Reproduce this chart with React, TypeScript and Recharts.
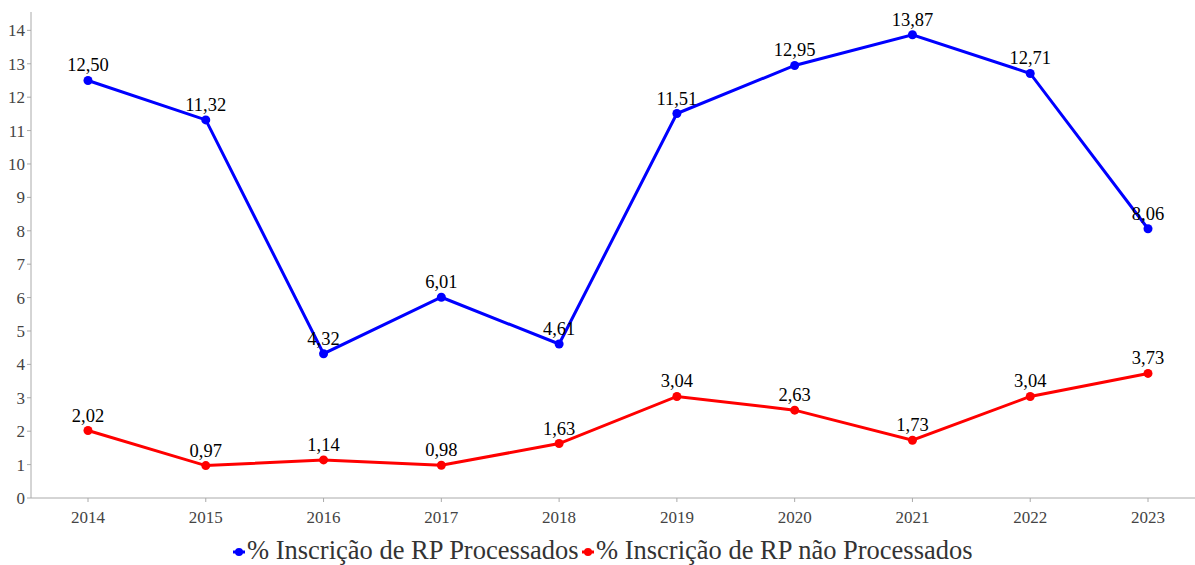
import React from 'react';
import { LineChart, Line, XAxis, YAxis, LabelList } from 'recharts';

const years = ['2014', '2015', '2016', '2017', '2018', '2019', '2020', '2021', '2022', '2023'];
const processados = [12.5, 11.32, 4.32, 6.01, 4.61, 11.51, 12.95, 13.87, 12.71, 8.06];
const naoProcessados = [2.02, 0.97, 1.14, 0.98, 1.63, 3.04, 2.63, 1.73, 3.04, 3.73];
const yTicks = [0, 1, 2, 3, 4, 5, 6, 7, 8, 9, 10, 11, 12, 13, 14];

const seriesNames = ['% Inscrição de RP Processados', '% Inscrição de RP não Processados'];
const seriesColors = ['#0000FF', '#FF0000'];
const legendX = [233, 582];

const data = years.map((y, i) => ({ year: y, a: processados[i], b: naoProcessados[i] }));

const fmt = (v: any) => Number(v).toFixed(2).replace('.', ',');
const FONT = 'Liberation Serif';

const tickStyle = { fill: '#444', fontSize: 17, fontFamily: FONT };

export default function App() {
  return (
    <div style={{ position: 'absolute', left: 0, top: 0, width: 1195, height: 565, background: '#fff' }}>
      <LineChart width={1195} height={565} data={data} margin={{ top: 12, right: 0, bottom: 31, left: 0 }}>
        <XAxis
          dataKey="year"
          padding={{ left: 57, right: 47 }}
          stroke="#aaa"
          tickSize={4}
          tick={tickStyle}
          tickMargin={9}
          height={36}
        />
        <YAxis
          domain={[0, 14.55]}
          ticks={yTicks}
          width={31}
          stroke="#aaa"
          tickSize={4}
          tickMargin={2}
          interval={0}
          tick={tickStyle}
        />
        <Line dataKey="a" name={seriesNames[0]} stroke={seriesColors[0]} strokeWidth={3} dot={{ r: 4.5, fill: seriesColors[0], stroke: seriesColors[0], strokeWidth: 0 }} isAnimationActive={false}>
          <LabelList dataKey="a" position="top" offset={9} formatter={fmt} style={{ fill: '#000', fontSize: 18.5, fontFamily: FONT }} />
        </Line>
        <Line dataKey="b" name={seriesNames[1]} stroke={seriesColors[1]} strokeWidth={3} dot={{ r: 4.5, fill: seriesColors[1], stroke: seriesColors[1], strokeWidth: 0 }} isAnimationActive={false}>
          <LabelList dataKey="b" position="top" offset={9} formatter={fmt} style={{ fill: '#000', fontSize: 18.5, fontFamily: FONT }} />
        </Line>
      </LineChart>
      <svg width={1195} height={40} style={{ position: 'absolute', left: 0, top: 532 }}>
        {seriesNames.map((n, i) => (
          <g key={n}>
            <line x1={legendX[i]} y1={20} x2={legendX[i] + 12} y2={20} stroke={seriesColors[i]} strokeWidth={3} />
            <circle cx={legendX[i] + 6} cy={20} r={4} fill={seriesColors[i]} />
            <text x={legendX[i] + 14} y={27} fontFamily={FONT} fontSize={26.5} fill="#333">{n}</text>
          </g>
        ))}
      </svg>
    </div>
  );
}
